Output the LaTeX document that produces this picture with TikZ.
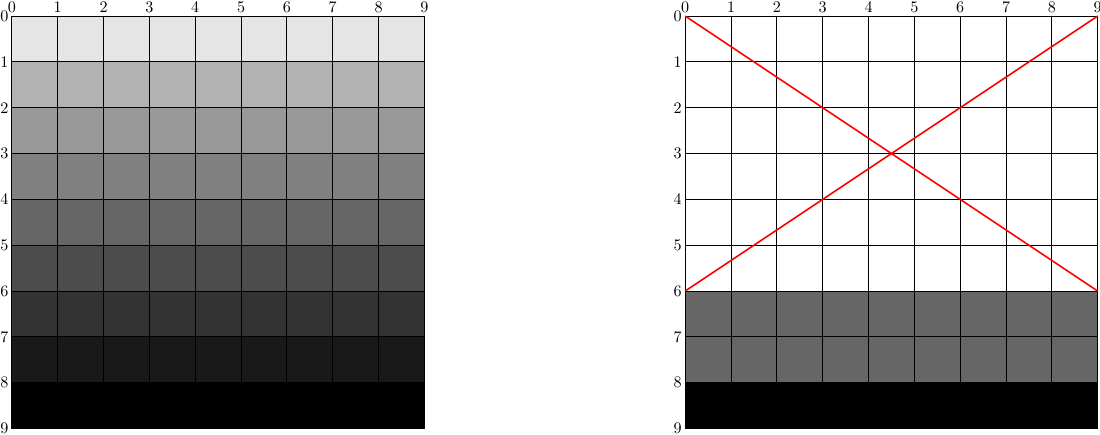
\documentclass[tikz,border=0pt]{standalone}
\usetikzlibrary{positioning}

\begin{document}
\begin{tikzpicture}[
    % Global Styles
    y=-1cm,
    font=\normalsize,
    % Grid styling
    gridline/.style={draw=black, semithick},
    % Axis labels
    toplabel/.style={anchor=south, inner sep=2pt},
    sidelabel/.style={anchor=east, inner sep=2pt},
    % Red diagonals
    cross/.style={draw=red, line width=1pt}
]
    \useasboundingbox (-0.26,-0.35) rectangle (23.74,9.14);

    % --- LEFT GRID: gray ramp ---
    \foreach \r/\g in {0/10, 1/30, 2/40, 3/50, 4/60, 5/70, 6/80, 7/90, 8/100}
        \fill[black!\g] (0,\r) rectangle (9,\r+1);
    \draw[gridline] (0,0) grid (9,9);

    % Labels
    \foreach \i in {0,...,9} {
        \node[toplabel] (ltop\i) at (\i,0) {\i};
        \node[sidelabel] (lside\i) at (0,\i) {\i};
    }

    % --- RIGHT GRID: cross ---
    \begin{scope}[xshift=14.69cm]
        \fill[black!60] (0,6) rectangle (9,8);
        \fill[black] (0,8) rectangle (9,9);
        \draw[gridline] (0,0) grid (9,9);

        % Labels
        \foreach \i in {0,...,9} {
            \node[toplabel] (rtop\i) at (\i,0) {\i};
            \node[sidelabel] (rside\i) at (0,\i) {\i};
        }

        % Diagonals
        \coordinate (tl) at (0,0);
        \coordinate (tr) at (9,0);
        \coordinate (ml) at (0,6);
        \coordinate (mr) at (9,6);
        \draw[cross] (tl) -- (mr);
        \draw[cross] (ml) -- (tr);
    \end{scope}

\end{tikzpicture}
\end{document}
